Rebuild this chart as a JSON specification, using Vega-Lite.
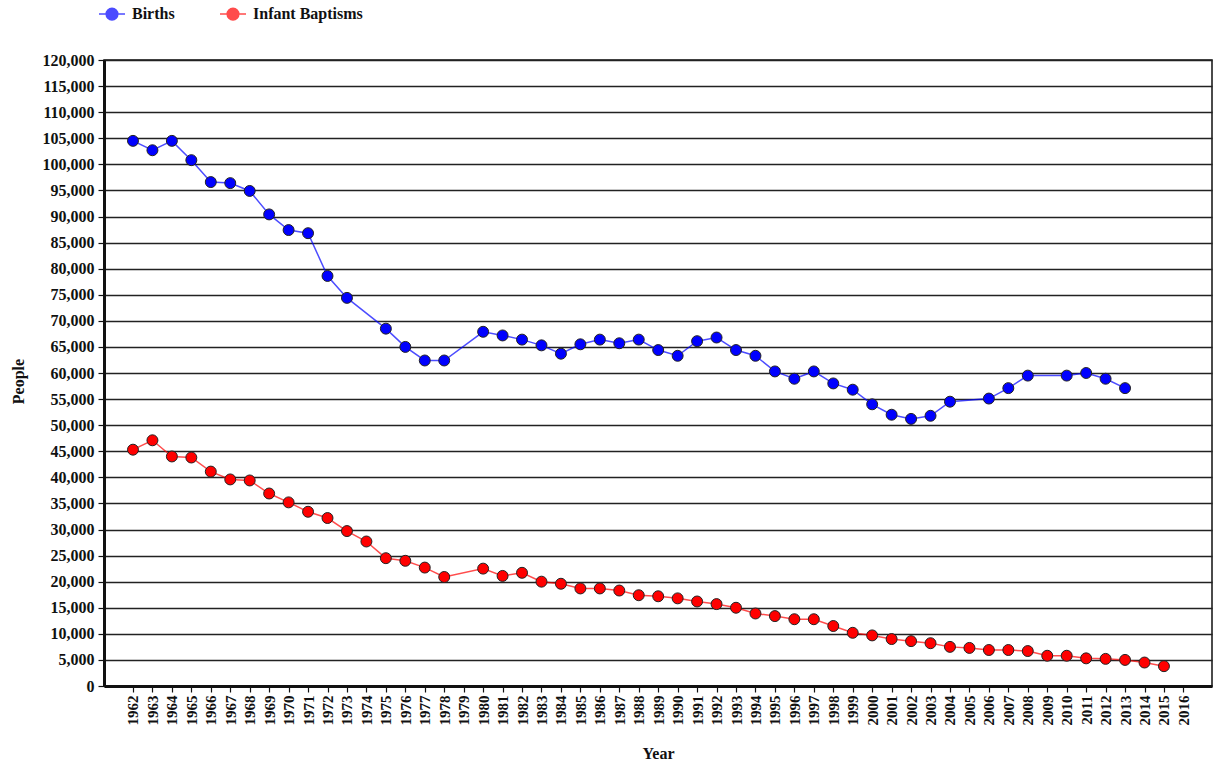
{
  "$schema": "https://vega.github.io/schema/vega-lite/v6.json",
  "autosize": {"type": "none"},
  "width": 1108,
  "height": 626,
  "padding": {"left": 104, "top": 60, "right": 4, "bottom": 80},
  "background": "white",
  "config": {
    "font": "'Liberation Serif', 'Noto Serif', 'DejaVu Serif', Times, serif",
    "view": {"stroke": "#111", "strokeWidth": 1.5},
    "axis": {"labelFont": "'Liberation Serif', 'Noto Serif', 'DejaVu Serif', Times, serif", "titleFont": "'Liberation Serif', 'Noto Serif', 'DejaVu Serif', Times, serif", "labelFontWeight": "bold", "titleFontWeight": "bold", "labelColor": "#111", "titleColor": "#111", "labelFontSize": 16, "titleFontSize": 16, "tickColor": "#111", "domainColor": "#111"},
    "legend": {"labelFont": "'Liberation Serif', 'Noto Serif', 'DejaVu Serif', Times, serif", "labelFontWeight": "bold", "labelFontSize": 16, "labelColor": "#111"}
  },
  "data": {"values": [
    {"Year": 1962, "Series": "Births", "People": 104500},
    {"Year": 1963, "Series": "Births", "People": 102700},
    {"Year": 1964, "Series": "Births", "People": 104500},
    {"Year": 1965, "Series": "Births", "People": 100800},
    {"Year": 1966, "Series": "Births", "People": 96600},
    {"Year": 1967, "Series": "Births", "People": 96400},
    {"Year": 1968, "Series": "Births", "People": 94900},
    {"Year": 1969, "Series": "Births", "People": 90400},
    {"Year": 1970, "Series": "Births", "People": 87400},
    {"Year": 1971, "Series": "Births", "People": 86800},
    {"Year": 1972, "Series": "Births", "People": 78600},
    {"Year": 1973, "Series": "Births", "People": 74400},
    {"Year": 1975, "Series": "Births", "People": 68500},
    {"Year": 1976, "Series": "Births", "People": 65000},
    {"Year": 1977, "Series": "Births", "People": 62400},
    {"Year": 1978, "Series": "Births", "People": 62400},
    {"Year": 1980, "Series": "Births", "People": 67900},
    {"Year": 1981, "Series": "Births", "People": 67200},
    {"Year": 1982, "Series": "Births", "People": 66400},
    {"Year": 1983, "Series": "Births", "People": 65300},
    {"Year": 1984, "Series": "Births", "People": 63700},
    {"Year": 1985, "Series": "Births", "People": 65500},
    {"Year": 1986, "Series": "Births", "People": 66400},
    {"Year": 1987, "Series": "Births", "People": 65700},
    {"Year": 1988, "Series": "Births", "People": 66400},
    {"Year": 1989, "Series": "Births", "People": 64400},
    {"Year": 1990, "Series": "Births", "People": 63300},
    {"Year": 1991, "Series": "Births", "People": 66100},
    {"Year": 1992, "Series": "Births", "People": 66800},
    {"Year": 1993, "Series": "Births", "People": 64400},
    {"Year": 1994, "Series": "Births", "People": 63300},
    {"Year": 1995, "Series": "Births", "People": 60300},
    {"Year": 1996, "Series": "Births", "People": 58900},
    {"Year": 1997, "Series": "Births", "People": 60300},
    {"Year": 1998, "Series": "Births", "People": 58000},
    {"Year": 1999, "Series": "Births", "People": 56800},
    {"Year": 2000, "Series": "Births", "People": 54000},
    {"Year": 2001, "Series": "Births", "People": 52000},
    {"Year": 2002, "Series": "Births", "People": 51200},
    {"Year": 2003, "Series": "Births", "People": 51800},
    {"Year": 2004, "Series": "Births", "People": 54500},
    {"Year": 2006, "Series": "Births", "People": 55100},
    {"Year": 2007, "Series": "Births", "People": 57100},
    {"Year": 2008, "Series": "Births", "People": 59500},
    {"Year": 2010, "Series": "Births", "People": 59500},
    {"Year": 2011, "Series": "Births", "People": 60000},
    {"Year": 2012, "Series": "Births", "People": 58900},
    {"Year": 2013, "Series": "Births", "People": 57100},
    {"Year": 1962, "Series": "Infant Baptisms", "People": 45300},
    {"Year": 1963, "Series": "Infant Baptisms", "People": 47100},
    {"Year": 1964, "Series": "Infant Baptisms", "People": 44000},
    {"Year": 1965, "Series": "Infant Baptisms", "People": 43800},
    {"Year": 1966, "Series": "Infant Baptisms", "People": 41100},
    {"Year": 1967, "Series": "Infant Baptisms", "People": 39600},
    {"Year": 1968, "Series": "Infant Baptisms", "People": 39400},
    {"Year": 1969, "Series": "Infant Baptisms", "People": 36900},
    {"Year": 1970, "Series": "Infant Baptisms", "People": 35200},
    {"Year": 1971, "Series": "Infant Baptisms", "People": 33400},
    {"Year": 1972, "Series": "Infant Baptisms", "People": 32200},
    {"Year": 1973, "Series": "Infant Baptisms", "People": 29700},
    {"Year": 1974, "Series": "Infant Baptisms", "People": 27700},
    {"Year": 1975, "Series": "Infant Baptisms", "People": 24500},
    {"Year": 1976, "Series": "Infant Baptisms", "People": 24000},
    {"Year": 1977, "Series": "Infant Baptisms", "People": 22700},
    {"Year": 1978, "Series": "Infant Baptisms", "People": 20900},
    {"Year": 1980, "Series": "Infant Baptisms", "People": 22500},
    {"Year": 1981, "Series": "Infant Baptisms", "People": 21100},
    {"Year": 1982, "Series": "Infant Baptisms", "People": 21700},
    {"Year": 1983, "Series": "Infant Baptisms", "People": 20000},
    {"Year": 1984, "Series": "Infant Baptisms", "People": 19600},
    {"Year": 1985, "Series": "Infant Baptisms", "People": 18700},
    {"Year": 1986, "Series": "Infant Baptisms", "People": 18700},
    {"Year": 1987, "Series": "Infant Baptisms", "People": 18300},
    {"Year": 1988, "Series": "Infant Baptisms", "People": 17400},
    {"Year": 1989, "Series": "Infant Baptisms", "People": 17200},
    {"Year": 1990, "Series": "Infant Baptisms", "People": 16800},
    {"Year": 1991, "Series": "Infant Baptisms", "People": 16200},
    {"Year": 1992, "Series": "Infant Baptisms", "People": 15700},
    {"Year": 1993, "Series": "Infant Baptisms", "People": 15000},
    {"Year": 1994, "Series": "Infant Baptisms", "People": 13900},
    {"Year": 1995, "Series": "Infant Baptisms", "People": 13400},
    {"Year": 1996, "Series": "Infant Baptisms", "People": 12800},
    {"Year": 1997, "Series": "Infant Baptisms", "People": 12800},
    {"Year": 1998, "Series": "Infant Baptisms", "People": 11500},
    {"Year": 1999, "Series": "Infant Baptisms", "People": 10200},
    {"Year": 2000, "Series": "Infant Baptisms", "People": 9700},
    {"Year": 2001, "Series": "Infant Baptisms", "People": 9000},
    {"Year": 2002, "Series": "Infant Baptisms", "People": 8600},
    {"Year": 2003, "Series": "Infant Baptisms", "People": 8200},
    {"Year": 2004, "Series": "Infant Baptisms", "People": 7500},
    {"Year": 2005, "Series": "Infant Baptisms", "People": 7300},
    {"Year": 2006, "Series": "Infant Baptisms", "People": 6900},
    {"Year": 2007, "Series": "Infant Baptisms", "People": 6900},
    {"Year": 2008, "Series": "Infant Baptisms", "People": 6700},
    {"Year": 2009, "Series": "Infant Baptisms", "People": 5800},
    {"Year": 2010, "Series": "Infant Baptisms", "People": 5800},
    {"Year": 2011, "Series": "Infant Baptisms", "People": 5300},
    {"Year": 2012, "Series": "Infant Baptisms", "People": 5200},
    {"Year": 2013, "Series": "Infant Baptisms", "People": 5000},
    {"Year": 2014, "Series": "Infant Baptisms", "People": 4500},
    {"Year": 2015, "Series": "Infant Baptisms", "People": 3800}
  ]},
  "encoding": {
    "x": {
      "field": "Year", "type": "quantitative",
      "scale": {"domain": [1960.51, 2017.47], "nice": false, "zero": false},
      "axis": {"title": "Year", "values": [1962,1963,1964,1965,1966,1967,1968,1969,1970,1971,1972,1973,1974,1975,1976,1977,1978,1979,1980,1981,1982,1983,1984,1985,1986,1987,1988,1989,1990,1991,1992,1993,1994,1995,1996,1997,1998,1999,2000,2001,2002,2003,2004,2005,2006,2007,2008,2009,2010,2011,2012,2013,2014,2015,2016], "format": "d", "labelAngle": -90, "labelFontSize": 15, "labelOverlap": false, "labelFlush": false, "tickSize": 6, "tickWidth": 1.2, "labelPadding": 3, "domainWidth": 3, "grid": false, "titlePadding": 20}
    },
    "y": {
      "field": "People", "type": "quantitative",
      "scale": {"domain": [0, 120000], "nice": false},
      "axis": {"title": "People", "values": [0,5000,10000,15000,20000,25000,30000,35000,40000,45000,50000,55000,60000,65000,70000,75000,80000,85000,90000,95000,100000,105000,110000,115000,120000], "format": ",d", "tickSize": 6, "tickWidth": 1.2, "labelPadding": 4, "domainWidth": 3, "grid": true, "gridColor": "#222", "gridWidth": 1.3, "titleAngle": -90, "titleX": -86, "titleY": 321, "titleBaseline": "middle", "titleAlign": "center"}
    },
    "color": {
      "field": "Series", "type": "nominal",
      "scale": {"domain": ["Births", "Infant Baptisms"], "range": ["#0000ff", "#ff0000"]},
      "legend": {"title": null, "orient": "none", "direction": "horizontal", "legendX": -6, "legendY": -60, "symbolType": "M-1,0L1,0M-0.45,0A0.45,0.45,0,1,1,0.45,0A0.45,0.45,0,1,1,-0.45,0Z", "symbolSize": 676, "symbolStrokeWidth": 1.5, "labelOffset": 6, "columnPadding": 42}
    }
  },
  "layer": [
    {"mark": {"type": "line", "strokeWidth": 1.5, "opacity": 0.7}},
    {"mark": {"type": "point", "filled": true, "opacity": 1, "size": 120, "stroke": "#222", "strokeWidth": 1}}
  ]
}
